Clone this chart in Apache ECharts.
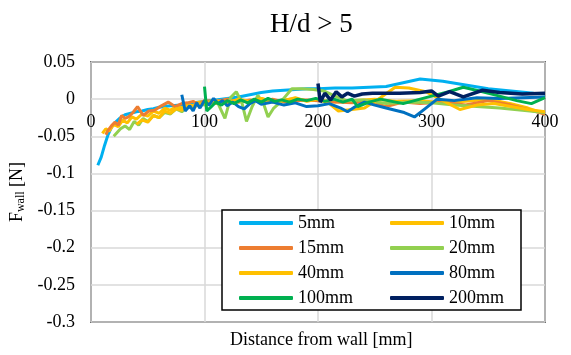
<!DOCTYPE html>
<html>
<head>
<meta charset="utf-8">
<title>H/d > 5</title>
<script src="https://cdn.jsdelivr.net/npm/echarts@6/dist/echarts.min.js"></script>
<style>
	html,body{margin:0;padding:0;background:#fff;}
	#chart{width:571px;height:355px;}
</style>
</head>
<body>
<div id="chart"></div>
<script>
// series names and colours
var names = ['5mm', '10mm', '15mm', '20mm', '40mm', '80mm', '100mm', '200mm'];
var colors = ['#00B0F0', '#FFC000', '#ED7D31', '#92D050', '#FFC000', '#0070C0', '#00B050', '#002060'];

// distance from wall [mm] and F_wall [N]
var x5 = [6, 9, 12, 15, 18, 21, 25, 30, 35, 40, 45, 50, 55, 60, 70, 80, 90, 100, 110, 120, 130, 140, 150, 160, 170, 180, 190, 200, 215, 230, 245, 260, 275, 290, 310, 330, 350, 370, 390, 400];
var y5 = [-0.089, -0.078, -0.062, -0.048, -0.038, -0.032, -0.026, -0.021, -0.019, -0.017, -0.016, -0.014, -0.013, -0.011, -0.009, -0.008, -0.005, -0.003, -0.001, 0.001, 0.003, 0.006, 0.009, 0.011, 0.012, 0.013, 0.014, 0.014, 0.015, 0.015, 0.016, 0.017, 0.022, 0.027, 0.024, 0.019, 0.014, 0.011, 0.008, 0.007];

var x10 = [10, 13, 16, 20, 24, 28, 32, 36, 40, 45, 50, 55, 60, 65, 70, 75, 80, 85, 90, 95, 100, 110, 120, 130, 140, 150, 160, 170, 180, 190, 200, 215, 230, 250, 270, 290, 310, 330, 350, 370, 385, 400];
var y10 = [-0.046, -0.040, -0.043, -0.034, -0.037, -0.028, -0.032, -0.024, -0.027, -0.020, -0.023, -0.016, -0.019, -0.012, -0.015, -0.010, -0.012, -0.007, -0.009, -0.004, -0.003, -0.006, 0.000, -0.004, -0.002, 0.001, -0.003, -0.001, 0.001, -0.002, -0.001, -0.004, -0.002, 0.000, -0.003, -0.002, -0.005, -0.003, 0.000, -0.006, -0.012, -0.020];

var x15 = [13, 15, 18, 21, 24, 27, 30, 33, 37, 41, 46, 51, 56, 62, 68, 74, 80, 85, 90, 95, 100, 110, 120, 130, 140, 150, 160, 170, 180, 190, 200, 215, 230, 245, 260, 275, 290, 310, 330, 350, 370, 390, 400];
var y15 = [-0.048, -0.042, -0.036, -0.031, -0.035, -0.022, -0.026, -0.024, -0.018, -0.010, -0.022, -0.016, -0.015, -0.009, -0.004, -0.010, -0.006, -0.005, -0.003, -0.007, -0.002, -0.003, 0.000, -0.004, -0.001, -0.003, 0.000, -0.004, -0.002, -0.001, -0.002, -0.004, -0.005, -0.003, -0.010, -0.004, -0.006, -0.004, -0.008, -0.002, -0.008, -0.016, -0.020];

var x20 = [20, 23, 26, 30, 34, 38, 42, 46, 50, 55, 60, 65, 70, 75, 80, 85, 90, 95, 100, 106, 112, 118, 123, 128, 133, 137, 142, 147, 152, 156, 161, 167, 177, 186, 196, 205, 215, 225, 240, 260, 280, 300, 320, 340, 360, 380, 400];
var y20 = [-0.050, -0.045, -0.040, -0.036, -0.041, -0.030, -0.035, -0.026, -0.030, -0.022, -0.025, -0.018, -0.020, -0.013, -0.017, -0.010, -0.012, -0.006, -0.008, -0.002, -0.006, -0.026, 0.002, 0.010, -0.005, -0.030, -0.010, 0.005, -0.006, -0.024, -0.012, -0.004, 0.014, 0.014, 0.013, 0.011, 0.004, -0.002, -0.001, -0.006, -0.004, -0.005, -0.008, -0.010, -0.012, -0.015, -0.018];

var x40 = [40, 45, 50, 55, 60, 65, 70, 75, 80, 85, 90, 95, 100, 110, 120, 130, 140, 150, 160, 170, 180, 190, 200, 210, 218, 230, 241, 255, 268, 280, 295, 310, 325, 340, 355, 370, 385, 400];
var y40 = [-0.034, -0.028, -0.031, -0.022, -0.025, -0.016, -0.019, -0.013, -0.015, -0.009, -0.011, -0.007, -0.006, -0.002, -0.005, 0.000, -0.003, 0.001, -0.004, -0.002, 0.002, -0.003, 0.000, -0.006, -0.016, -0.014, -0.012, 0.002, 0.016, 0.015, 0.010, -0.002, -0.014, -0.008, -0.006, -0.010, -0.014, -0.017];

var x80 = [80, 83, 87, 90, 93, 96, 100, 104, 108, 112, 116, 120, 125, 130, 135, 140, 145, 150, 160, 170, 180, 190, 200, 210, 220, 226, 233, 241, 250, 260, 268, 276, 285, 295, 305, 320, 340, 360, 380, 400];
var y80 = [0.006, -0.016, -0.009, -0.016, -0.005, -0.012, -0.002, -0.008, 0.001, -0.006, -0.002, -0.009, -0.004, -0.010, -0.013, -0.006, -0.002, -0.007, -0.004, -0.008, -0.005, -0.010, -0.009, -0.006, -0.012, -0.017, -0.010, -0.004, -0.008, -0.012, -0.015, -0.018, -0.024, -0.012, 0.000, -0.002, 0.002, 0.001, 0.002, 0.003];

var x100 = [100, 102, 106, 110, 115, 120, 126, 132, 138, 144, 150, 156, 162, 168, 175, 182, 190, 198, 206, 214, 222, 230, 235, 245, 255, 265, 275, 285, 300, 315, 328, 345, 360, 375, 388, 400];
var y100 = [0.017, -0.016, -0.010, -0.004, -0.008, -0.002, -0.006, -0.001, -0.005, 0.000, -0.004, 0.001, -0.003, -0.001, -0.004, 0.000, -0.002, 0.001, -0.003, 0.000, -0.004, 0.000, -0.010, -0.004, 0.000, -0.003, -0.006, -0.002, 0.004, 0.010, 0.016, 0.010, 0.004, -0.002, -0.006, 0.002];

var x200 = [200, 202, 206, 211, 216, 221, 226, 232, 239, 248, 260, 272, 290, 300, 306, 316, 328, 345, 360, 380, 400];
var y200 = [0.021, -0.004, 0.008, -0.001, 0.010, 0.003, 0.008, 0.004, 0.007, 0.008, 0.008, 0.008, 0.009, 0.011, 0.004, 0.010, 0.003, 0.012, 0.009, 0.007, 0.008];

var xs = [x5, x10, x15, x20, x40, x80, x100, x200];
var ys = [y5, y10, y15, y20, y40, y80, y100, y200];

var yMin = -0.3, yMax = 0.05;
var font = '"Liberation Serif", "Times New Roman", serif';

function pairs(a, b) {
	var out = [];
	for (var i = 0; i < a.length; i++) out.push([a[i], b[i]]);
	return out;
}

var series = names.map(function (n, i) {
	return {
		name: n,
		type: 'line',
		data: pairs(xs[i], ys[i]),
		showSymbol: false,
		symbol: 'none',
		lineStyle: { color: colors[i], width: i == 7 ? 3.5 : 3 },
		itemStyle: { color: colors[i] },
		z: 2 + i
	};
});

var legendBase = {
	orient: 'vertical',
	icon: 'roundRect',
	itemWidth: 54,
	itemHeight: 4,
	itemGap: 7,
	textStyle: { fontFamily: font, fontSize: 18, color: '#000', width: 60, lineHeight: 18 }
};

// grid box in px; the x axis is lifted from the bottom edge up to y = 0
var gridTop = 62, gridBottom = 33, H = 355;
var plotH = H - gridTop - gridBottom;
var zeroLift = plotH * (0 - yMin) / (yMax - yMin);

var chart = echarts.init(document.getElementById('chart'));
chart.setOption({
	animation: false,
	color: colors,
	title: [{
		text: 'H/d > 5',
		left: 265,
		top: 6,
		textStyle: { fontFamily: font, fontSize: 27, fontWeight: 'normal', color: '#000' }
	}, {
		text: 'Distance from wall [mm]',
		left: 225,
		top: 326,
		textStyle: { fontFamily: font, fontSize: 18, fontWeight: 'normal', color: '#000' }
	}],
	legend: [
		Object.assign({}, legendBase, {
			data: ['5mm', '15mm', '40mm', '100mm'],
			left: 222,
			top: 210,
			padding: [4, 163, 3, 17],
			backgroundColor: '#fff',
			borderColor: '#000',
			borderWidth: 1.5,
			z: 10
		}),
		Object.assign({}, legendBase, {
			data: ['10mm', '20mm', '80mm', '200mm'],
			left: 390,
			top: 214,
			padding: 0,
			z: 11
		})
	],
	grid: {
		left: 91,
		right: 26,
		top: gridTop,
		bottom: gridBottom,
		show: true,
		borderColor: '#000',
		borderWidth: 1.5,
		containLabel: false
	},
	xAxis: {
		type: 'value',
		min: 0,
		max: 400,
		interval: 100,
		position: 'bottom',
		offset: -zeroLift,
		axisLine: { show: false, onZero: false },
		axisTick: { show: false },
		axisLabel: { fontFamily: font, fontSize: 18, color: '#000', margin: 14 },
		splitLine: { show: true, lineStyle: { color: '#D9D9D9', width: 1.5 } }
	},
	yAxis: {
		type: 'value',
		min: yMin,
		max: yMax,
		interval: 0.05,
		name: '{a|F}{b|wall}{a| [N]}',
		nameLocation: 'middle',
		nameRotate: 90,
		nameGap: 62,
		nameTextStyle: {
			rich: {
				a: { fontFamily: font, fontSize: 18, color: '#000' },
				b: { fontFamily: font, fontSize: 12, color: '#000', padding: [7, 0, 0, 0] }
			}
		},
		axisLine: { show: false, onZero: false },
		axisTick: { show: false },
		axisLabel: { fontFamily: font, fontSize: 18, color: '#000', margin: 16 },
		splitLine: { show: true, lineStyle: { color: '#D9D9D9', width: 1.5 } }
	},
	series: series
});
</script>
</body>
</html>
